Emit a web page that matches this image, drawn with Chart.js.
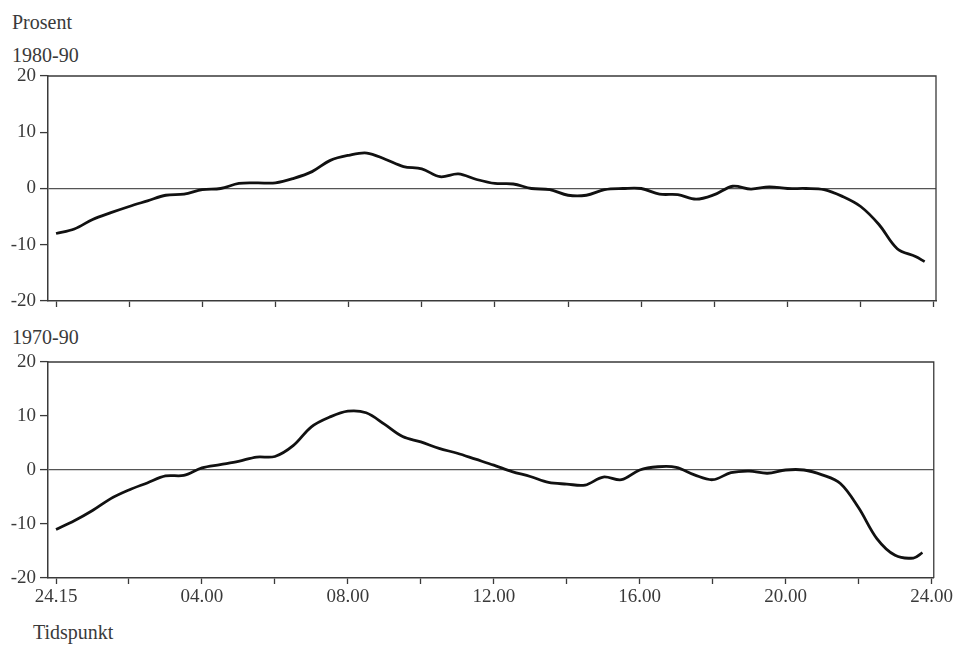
<!DOCTYPE html>
<html>
<head>
<meta charset="utf-8">
<script src="https://cdn.jsdelivr.net/npm/chart.js@4.4.1/dist/chart.umd.min.js"></script>
<style>
  html, body { margin: 0; padding: 0; background: #fff; }
  body { width: 955px; height: 645px; position: relative; overflow: hidden;
         font-family: 'Liberation Serif', 'DejaVu Serif', serif; color: #3a3a3a; }
  .lbl { position: absolute; font-size: 20px; line-height: 1; white-space: nowrap; }
  canvas { position: absolute; left: 0; }
</style>
</head>
<body>
<div class="lbl" style="left:12px; top:12px;">Prosent</div>
<div class="lbl" style="left:12px; top:45px;">1980-90</div>
<div class="lbl" style="left:12px; top:327px;">1970-90</div>
<div class="lbl" style="left:33px; top:622px;">Tidspunkt</div>
<canvas id="top" width="955" height="320" style="top:0"></canvas>
<canvas id="bottom" width="955" height="325" style="top:320px"></canvas>
<script>
// Tidspunkt (timer etter midnatt), halvtimesverdier
const hours = [0, 0.5, 1, 1.5, 2, 2.5, 3, 3.5, 4, 4.5, 5, 5.5, 6, 6.5, 7, 7.5,
  8, 8.5, 9, 9.5, 10, 10.5, 11, 11.5, 12, 12.5, 13, 13.5, 14, 14.5, 15, 15.5,
  16, 16.5, 17, 17.5, 18, 18.5, 19, 19.5, 20, 20.5, 21, 21.5, 22, 22.5, 23, 23.5, 23.75];

// Endring i prosent, 1980-90
const change8090 = [-8, -7.2, -5.5, -4.3, -3.2, -2.2, -1.2, -1, -0.2, 0, 0.9, 1, 1, 1.8, 3, 5,
  5.9, 6.3, 5.2, 3.9, 3.5, 2.1, 2.6, 1.6, 0.9, 0.8, 0, -0.2, -1.2, -1.2, -0.2, 0,
  0, -1, -1.1, -1.9, -1.1, 0.4, -0.1, 0.3, 0, 0, -0.2, -1.4, -3.2, -6.4, -10.7, -12.1, -13];

// Endring i prosent, 1970-90
const change7090 = [-11, -9.4, -7.5, -5.3, -3.7, -2.4, -1.1, -1, 0.4, 1, 1.6, 2.4, 2.5, 4.5, 8, 9.8,
  10.9, 10.6, 8.5, 6.2, 5.2, 4, 3.1, 2, 0.9, -0.3, -1.2, -2.3, -2.6, -2.8, -1.3, -1.8,
  0, 0.6, 0.5, -0.9, -1.8, -0.5, -0.2, -0.6, 0, 0, -0.9, -2.5, -7, -12.7, -15.8, -16.3, -15.3];

// x-akse: merker annenhver time, tekst hver fjerde
const xTicks = [0, 2, 4, 6, 8, 10, 12, 14, 16, 18, 20, 22, 24];
const xTickLabels = ['24.15', '', '04.00', '', '08.00', '', '12.00', '', '16.00', '', '20.00', '', '24.00'];
const yTicks = [-20, -10, 0, 10, 20];

const FONT = { family: "'Liberation Serif', 'DejaVu Serif', serif", size: 19 };
const INK = '#3a3a3a';

// ramme oppe og til høyre
const framePlugin = {
  id: 'frame',
  afterDraw(chart) {
    const { ctx, chartArea: a } = chart;
    ctx.save();
    ctx.strokeStyle = INK;
    ctx.lineWidth = 1.3;
    ctx.beginPath();
    ctx.moveTo(a.left, a.top);
    ctx.lineTo(a.right, a.top);
    ctx.lineTo(a.right, a.bottom);
    ctx.stroke();
    ctx.restore();
  }
};

function makePanel(id, values, opts) {
  return new Chart(document.getElementById(id), {
    type: 'line',
    data: {
      datasets: [{
        data: hours.map((h, i) => ({ x: h, y: values[i] })),
        borderColor: '#111',
        borderWidth: 2.8,
        pointRadius: 0,
        tension: 0.35,
        fill: false,
      }]
    },
    options: {
      responsive: false,
      animation: false,
      events: [],
      layout: { padding: { top: opts.top, right: 19, left: 0, bottom: 0 } },
      plugins: { legend: { display: false }, tooltip: { enabled: false } },
      scales: {
        x: {
          type: 'linear',
          min: -0.22,
          max: 24.06,
          afterBuildTicks: s => { s.ticks = xTicks.map(v => ({ value: v })); },
          afterFit: s => { s.height = opts.xHeight; },
          border: { color: INK, width: 1.5 },
          grid: { drawOnChartArea: false, tickLength: 6, tickColor: INK, tickWidth: 1.3 },
          ticks: {
            display: opts.showLabels,
            autoSkip: false,
            maxRotation: 0,
            padding: 2,
            color: INK,
            font: FONT,
            callback: v => xTickLabels[xTicks.indexOf(v)]
          }
        },
        y: {
          min: -20,
          max: 20,
          afterBuildTicks: s => { s.ticks = yTicks.map(v => ({ value: v })); },
          afterFit: s => { s.width = 48; },
          border: { color: INK, width: 1.5 },
          grid: {
            tickLength: 8,
            tickColor: INK,
            tickWidth: 1.3,
            lineWidth: 1.2,
            color: c => (c.tick && c.tick.value === 0) ? '#555' : 'rgba(0,0,0,0)'
          },
          ticks: { padding: 4, color: INK, font: FONT }
        }
      }
    },
    plugins: [framePlugin]
  });
}

makePanel('top', change8090, { top: 76, xHeight: 19, showLabels: false });
makePanel('bottom', change7090, { top: 42, xHeight: 67, showLabels: true });
</script>
</body>
</html>
